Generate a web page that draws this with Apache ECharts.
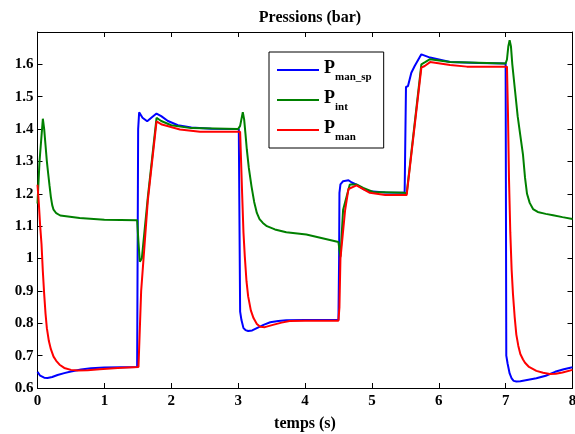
<!DOCTYPE html>
<html><head><meta charset="utf-8">
<script src="https://cdn.jsdelivr.net/npm/echarts@6/dist/echarts.min.js"></script>
<style>html,body{margin:0;padding:0;background:#fff}#c{width:575px;height:434px}</style>
</head><body><div id="c"></div>
<script>
// ---- data (time in s, pressure in bar) ----
var xTicks = [0,1,2,3,4,5,6,7,8];
var yTicks = [0.6,0.7,0.8,0.9,1,1.1,1.2,1.3,1.4,1.5,1.6];

var tManSp = [0,0.04,0.1,0.15,0.22,0.3,0.4,0.5,0.65,0.8,1.0,1.49,1.505,1.52,1.57,1.64,1.72,1.78,1.85,1.95,2.1,2.3,2.6,3.01,3.02,3.03,3.05,3.08,3.11,3.15,3.21,3.28,3.38,3.48,3.6,3.72,4.0,4.5,4.51,4.515,4.53,4.57,4.65,4.70,4.77,4.87,4.97,5.2,5.49,5.51,5.54,5.59,5.64,5.74,5.87,6.17,6.6,7.0,7.01,7.03,7.06,7.09,7.12,7.16,7.22,7.3,7.46,7.6,7.74,7.87,8.0];
var vManSp = [0.65,0.638,0.632,0.631,0.634,0.64,0.646,0.651,0.657,0.661,0.663,0.665,1.40,1.452,1.435,1.424,1.438,1.448,1.44,1.425,1.412,1.405,1.401,1.40,1.40,0.836,0.81,0.785,0.779,0.776,0.778,0.785,0.795,0.803,0.807,0.809,0.81,0.81,1.0,1.203,1.229,1.239,1.242,1.235,1.228,1.215,1.208,1.204,1.203,1.53,1.533,1.574,1.595,1.631,1.621,1.607,1.604,1.603,0.70,0.675,0.645,0.63,0.622,0.62,0.621,0.624,0.63,0.638,0.65,0.658,0.664];

var tInt = [0,0.03,0.08,0.1,0.12,0.14,0.16,0.18,0.2,0.22,0.24,0.28,0.34,0.63,1.0,1.49,1.51,1.53,1.56,1.65,1.78,1.85,2.0,2.3,3.0,3.03,3.07,3.09,3.11,3.13,3.16,3.2,3.24,3.28,3.32,3.37,3.43,3.55,3.72,4.02,4.5,4.52,4.53,4.57,4.67,4.77,4.87,5.02,5.49,5.52,5.74,5.79,5.87,6.17,7.0,7.02,7.04,7.06,7.08,7.1,7.14,7.18,7.22,7.26,7.29,7.32,7.36,7.41,7.48,7.6,7.71,7.85,8.0];
var vInt = [1.17,1.3,1.432,1.40,1.35,1.30,1.262,1.225,1.19,1.165,1.151,1.14,1.133,1.125,1.12,1.118,1.05,0.99,1.0,1.19,1.435,1.425,1.412,1.403,1.40,1.41,1.452,1.43,1.385,1.337,1.28,1.223,1.175,1.141,1.122,1.11,1.10,1.09,1.081,1.074,1.051,1.05,1.006,1.151,1.229,1.229,1.218,1.206,1.203,1.2,1.60,1.606,1.616,1.607,1.603,1.615,1.655,1.675,1.655,1.60,1.52,1.44,1.38,1.32,1.25,1.20,1.172,1.153,1.144,1.138,1.134,1.128,1.122];

var tMan = [0,0.02,0.04,0.06,0.08,0.1,0.12,0.14,0.17,0.2,0.24,0.28,0.33,0.4,0.5,0.6,0.75,0.93,1.2,1.51,1.55,1.65,1.78,1.86,2.13,2.43,2.98,3.03,3.06,3.08,3.10,3.125,3.15,3.19,3.23,3.28,3.33,3.4,3.52,3.65,3.77,4.0,4.5,4.515,4.53,4.6,4.65,4.77,4.97,5.2,5.52,5.74,5.79,5.87,6.17,6.42,7.02,7.035,7.05,7.07,7.09,7.11,7.135,7.16,7.19,7.22,7.26,7.29,7.35,7.46,7.56,7.66,7.75,7.85,8.0];
var vMan = [1.228,1.17,1.10,1.045,0.96,0.89,0.83,0.785,0.745,0.72,0.697,0.684,0.672,0.662,0.656,0.654,0.655,0.658,0.662,0.665,0.9,1.18,1.424,1.414,1.399,1.392,1.392,1.392,1.2,1.08,1.006,0.93,0.883,0.84,0.816,0.798,0.789,0.788,0.795,0.802,0.807,0.808,0.808,0.85,1.0,1.15,1.215,1.226,1.203,1.196,1.196,1.59,1.595,1.607,1.598,1.593,1.593,1.45,1.25,1.08,0.965,0.89,0.82,0.765,0.73,0.705,0.688,0.678,0.665,0.653,0.647,0.643,0.644,0.648,0.656];

var names = ['P_man_sp','P_int','P_man'];
var subs = {'P_man_sp':'man_sp','P_int':'int','P_man':'man'};
var colors = ['#0000ff','#008000','#ff0000'];

function pairs(t,v){ return t.map(function(x,i){ return [x, v[i]]; }); }

var serif = '"Liberation Serif","Times New Roman",serif';
var chart = echarts.init(document.getElementById('c'), null, {renderer:'canvas'});
var axisCommon = {
  type:'value',
  axisLine:{show:true, onZero:false, lineStyle:{color:'#000', width:1}},
  axisTick:{show:true, inside:true, length:5, lineStyle:{color:'#000'}},
  splitLine:{show:false}
};
chart.setOption({
  animation:false,
  backgroundColor:'#fff',
  title:{text:'Pressions (bar)', left:305, textAlign:'center', top:5,
    textStyle:{fontFamily:serif, fontWeight:'bold', fontSize:16, color:'#000'}},
  grid:{left:37.5, right:2.5, top:32, bottom:46, containLabel:false, outerBoundsMode:'none'},
  legend:{
    data:names, orient:'vertical', left:269, top:52, width:114,
    backgroundColor:'#fff', borderColor:'#000', borderWidth:1,
    padding:[7,12,5,8], itemGap:6, itemWidth:42, itemHeight:2,
    icon:'rect',
    formatter:function(n){ return '{P|P}{s|'+subs[n]+'}'; },
    textStyle:{color:'#000', rich:{
      P:{fontFamily:serif, fontWeight:'bold', fontSize:18, color:'#000', verticalAlign:'bottom', lineHeight:26, padding:[0,0,6,0]},
      s:{fontFamily:serif, fontWeight:'bold', fontSize:11, color:'#000', verticalAlign:'bottom', lineHeight:26}
    }}
  },
  xAxis:[
    Object.assign({}, axisCommon, {min:0, max:8, interval:1, position:'bottom',
      name:'temps (s)', nameLocation:'middle', nameGap:28,
      nameTextStyle:{fontFamily:serif, fontWeight:'bold', fontSize:16, color:'#000'},
      axisLabel:{fontFamily:serif, fontWeight:'bold', fontSize:15, color:'#000', margin:6,
        formatter:function(v){ return xTicks.indexOf(v)>=0 ? String(v) : ''; }}}),
    Object.assign({}, axisCommon, {min:0, max:8, interval:1, position:'top', axisLabel:{show:false}})
  ],
  yAxis:[
    Object.assign({}, axisCommon, {min:0.6, max:1.7, interval:0.1, position:'left',
      axisLabel:{fontFamily:serif, fontWeight:'bold', fontSize:15, color:'#000', margin:4,
        showMaxLabel:false,
        formatter:function(v){ var r=Math.round(v*10)/10; return yTicks.indexOf(r)>=0 ? String(r) : ''; }}}),
    Object.assign({}, axisCommon, {min:0.6, max:1.7, interval:0.1, position:'right', axisLabel:{show:false}})
  ],
  series:[
    {name:names[0], type:'line', data:pairs(tManSp,vManSp), showSymbol:false, color:colors[0], lineStyle:{width:2}, z:2},
    {name:names[1], type:'line', data:pairs(tInt,vInt), showSymbol:false, color:colors[1], lineStyle:{width:2}, z:3},
    {name:names[2], type:'line', data:pairs(tMan,vMan), showSymbol:false, color:colors[2], lineStyle:{width:2}, z:4}
  ]
});
</script></body></html>
